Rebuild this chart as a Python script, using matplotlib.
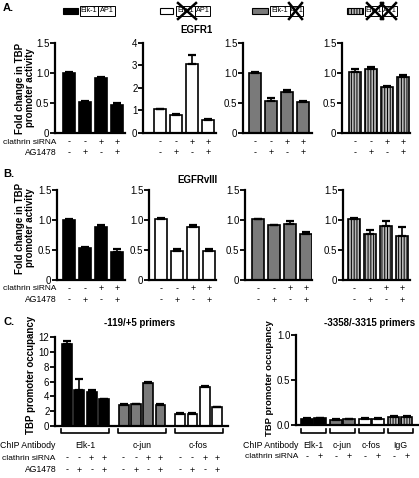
import numpy as np
import matplotlib
matplotlib.use("Agg")
import matplotlib.pyplot as plt
from matplotlib.patches import Rectangle
from matplotlib.lines import Line2D
from matplotlib.transforms import blended_transform_factory

plt.rcParams["font.family"] = ["Liberation Sans", "DejaVu Sans"]
plt.rcParams["hatch.linewidth"] = 0.7

# row labels
clathrin = ["-", "-", "+", "+"]
ag1478 = ["-", "+", "-", "+"]

# panel A (EGFR1)
a_black = [1.00, 0.52, 0.92, 0.47]
a_black_err = [0.02, 0.02, 0.02, 0.03]
a_white = [1.05, 0.82, 3.05, 0.58]
a_white_err = [0.03, 0.03, 0.40, 0.02]
a_gray = [1.00, 0.54, 0.69, 0.52]
a_gray_err = [0.02, 0.04, 0.02, 0.01]
a_striped = [1.02, 1.06, 0.76, 0.93]
a_striped_err = [0.04, 0.04, 0.03, 0.04]

# panel B (EGFRvIII)
b_black = [1.00, 0.53, 0.89, 0.47]
b_black_err = [0.02, 0.02, 0.03, 0.04]
b_white = [1.02, 0.49, 0.88, 0.49]
b_white_err = [0.02, 0.03, 0.03, 0.03]
b_gray = [1.01, 0.91, 0.93, 0.76]
b_gray_err = [0.01, 0.01, 0.05, 0.04]
b_striped = [1.01, 0.76, 0.90, 0.73]
b_striped_err = [0.03, 0.07, 0.09, 0.15]

# panel C, -119/+5 primers
c_groups = ["Elk-1", "c-jun", "c-fos"]
c_elk = [11.1, 4.8, 4.6, 3.6]
c_elk_err = [0.4, 1.5, 0.3, 0.1]
c_jun = [2.8, 2.9, 5.8, 2.8]
c_jun_err = [0.1, 0.1, 0.1, 0.1]
c_fos = [1.6, 1.6, 5.2, 2.5]
c_fos_err = [0.1, 0.1, 0.2, 0.1]

# panel C, -3358/-3315 primers
d_groups = ["Elk-1", "c-jun", "c-fos", "IgG"]
d_clathrin = ["-", "+"]
d_elk = [0.07, 0.075]
d_jun = [0.06, 0.065]
d_fos = [0.07, 0.07]
d_igg = [0.09, 0.09]
d_err = [0.005, 0.005]

W, H = 419, 478
fig = plt.figure(figsize=(W / 100, H / 100), dpi=100)


def fx(x):
    return x / W


def fy(y):
    return 1 - y / H


STYLES = {
    "black": dict(color="black", hatch=None),
    "white": dict(color="white", hatch=None),
    "gray": dict(color="#7a7a7a", hatch=None),
    "striped": dict(color="#b8b8b8", hatch="||||||"),
}


def add_ax(x0, x1, ytop, ybot):
    ax = fig.add_axes([fx(x0), fy(ybot), (x1 - x0) / W, (ybot - ytop) / H])
    for s in ["top", "right"]:
        ax.spines[s].set_visible(False)
    for s in ["left", "bottom"]:
        ax.spines[s].set_linewidth(1.6)
    ax.tick_params(axis="y", direction="out", length=3.5, width=1.3, labelsize=7, pad=0.5)
    ax.tick_params(axis="x", bottom=False, labelbottom=False)
    return ax


def draw_bars(ax, x, vals, errs, style, width):
    st = STYLES[style]
    ax.bar(x, vals, width, color=st["color"], edgecolor="black", linewidth=1.2,
           hatch=st["hatch"], zorder=2)
    ax.errorbar(x, vals, yerr=[np.zeros(len(vals)), errs], fmt="none", ecolor="black",
                elinewidth=1.2, capsize=3, capthick=1.6, zorder=3)


def sign_row(ax, x, signs, ypx, size=6.5):
    tr = blended_transform_factory(ax.transData, fig.transFigure)
    for xi, s in zip(x, signs):
        ax.text(xi, fy(ypx), s, transform=tr, ha="center", va="center", fontsize=size)


def small_panel(x0, x1, first_off, ytop, ybot, vals, errs, style, ymax, ticks, ticklabels,
                rows=None):
    ax = add_ax(x0, x1, ytop, ybot)
    pitch = 16.0
    x = np.arange(len(vals))
    draw_bars(ax, x, vals, errs, style, 0.78)
    left = -first_off / pitch
    ax.set_xlim(left, left + (x1 - x0) / pitch)
    ax.set_ylim(0, ymax)
    ax.set_yticks(ticks)
    ax.set_yticklabels(ticklabels)
    if rows:
        sign_row(ax, x, clathrin, rows[0])
        sign_row(ax, x, ag1478, rows[1])
    return ax


t15 = [0, 0.5, 1.0, 1.5]
l15 = ["0", "0.5", "1.0", "1.5"]

# ---- panel A ----
A_top, A_bot = 43, 133
small_panel(55, 125, 14, A_top, A_bot, a_black, a_black_err, "black", 1.5, t15, l15, (142, 153))
small_panel(143, 216, 17, A_top, A_bot, a_white, a_white_err, "white", 4, [0, 1, 2, 3, 4],
            ["0", "1", "2", "3", "4"], (142, 153))
small_panel(243, 312, 12, A_top, A_bot, a_gray, a_gray_err, "gray", 1.5, t15, l15, (142, 153))
small_panel(342, 410, 13, A_top, A_bot, a_striped, a_striped_err, "striped", 1.5, t15, l15,
            (142, 153))

# ---- panel B ----
B_top, B_bot = 190, 280
small_panel(57, 125, 12, B_top, B_bot, b_black, b_black_err, "black", 1.5, t15, l15, (289, 300))
small_panel(149, 216, 12, B_top, B_bot, b_white, b_white_err, "white", 1.5, t15, l15, (289, 300))
small_panel(245, 312, 13, B_top, B_bot, b_gray, b_gray_err, "gray", 1.5, t15, l15, (289, 300))
small_panel(343, 410, 11, B_top, B_bot, b_striped, b_striped_err, "striped", 1.5, t15, l15,
            (289, 300))

for yy in (142, 289):
    fig.text(fx(56), fy(yy), "clathrin siRNA", ha="right", va="center", fontsize=6.0)
for yy in (153, 300):
    fig.text(fx(57), fy(yy), "AG1478", ha="right", va="center", fontsize=6.2)

for yc in (88, 228):
    fig.text(fx(25), fy(yc), "Fold change in TBP\npromoter activity", rotation=90,
             ha="center", va="center", fontsize=7, fontweight="bold", linespacing=1.05)

fig.text(fx(196), fy(30), "EGFR1", ha="center", va="center", fontsize=7, fontweight="bold")
fig.text(fx(197), fy(180), "EGFRvIII", ha="center", va="center", fontsize=7, fontweight="bold")

for lbl, yy in (("A.", 8), ("B.", 174), ("C.", 322)):
    fig.text(fx(3), fy(yy), lbl, ha="left", va="center", fontsize=8, fontweight="bold")

# ---- legend boxes at top ----
legend_items = [
    # patch x0, x1, box x0, split, x1, style, cross ap1, cross elk
    (63, 78, 80, 98, 115, "black", False, False),
    (160, 173, 176, 195, 210, "white", False, True),
    (252, 268, 270, 290, 303, "gray", True, False),
    (347, 363, 365, 382, 397, "striped", True, True),
]
for p0, p1, b0, bs, b1, style, x_ap1, x_elk in legend_items:
    st = STYLES[style]
    fig.add_artist(Rectangle((fx(p0), fy(14)), (p1 - p0) / W, 6 / H, transform=fig.transFigure,
                             facecolor=st["color"], edgecolor="black", linewidth=0.8,
                             hatch=st["hatch"]))
    for a0, a1, txt in ((b0, bs, "Elk-1"), (bs, b1, "AP1")):
        fig.add_artist(Rectangle((fx(a0), fy(16)), (a1 - a0) / W, 10 / H,
                                 transform=fig.transFigure, facecolor="white",
                                 edgecolor="black", linewidth=0.7))
        fig.text(fx((a0 + a1) / 2), fy(11), txt, ha="center", va="center", fontsize=5.2)
    crosses = []
    if x_elk:
        crosses.append((b0 + 2, bs + 1))
    if x_ap1:
        crosses.append((bs - 1, b1 - 1))
    for c0, c1 in crosses:
        fig.add_artist(Line2D([fx(c0), fx(c1)], [fy(3), fy(19)], transform=fig.transFigure,
                              color="black", linewidth=1.8))
        fig.add_artist(Line2D([fx(c0), fx(c1)], [fy(19), fy(3)], transform=fig.transFigure,
                              color="black", linewidth=1.8))


def bracket(ax, xa, xb, yb, ytick):
    tr = ax.get_xaxis_transform()
    ax.plot([xa, xa, xb, xb], [ytick, yb, yb, ytick], color="black", lw=1.2,
            transform=tr, clip_on=False)


# ---- panel C left ----
C_top, C_bot = 337, 426
axc = add_ax(55, 228, C_top, C_bot)
pitch_c = 12.3
gstep = 4.6
all_x = []
for g, (vals, errs, style) in enumerate(((c_elk, c_elk_err, "black"),
                                         (c_jun, c_jun_err, "gray"),
                                         (c_fos, c_fos_err, "white"))):
    x = g * gstep + np.arange(4)
    draw_bars(axc, x, vals, errs, style, 0.8)
    all_x.append(x)
left = -12 / pitch_c
axc.set_xlim(left, left + (228 - 55) / pitch_c)
axc.set_ylim(0, 12)
axc.set_yticks(range(0, 13, 2))
span = C_bot - C_top
tr = blended_transform_factory(axc.transData, fig.transFigure)
for x, name in zip(all_x, c_groups):
    bracket(axc, x[0] - 0.45, x[-1] + 0.45, -7 / span, -3 / span)
    axc.text(x.mean(), fy(445), name, transform=tr, ha="center", va="center", fontsize=6.3)
    sign_row(axc, x, clathrin, 458)
    sign_row(axc, x, ag1478, 470)
fig.text(fx(55), fy(445), "ChIP Antibody", ha="right", va="center", fontsize=6.3)
fig.text(fx(55), fy(458), "clathrin siRNA", ha="right", va="center", fontsize=6.0)
fig.text(fx(57), fy(470), "AG1478", ha="right", va="center", fontsize=6.2)
fig.text(fx(31), fy(375), "TBP promoter occupancy", rotation=90, ha="center", va="center",
         fontsize=7, fontweight="bold")
fig.text(fx(140), fy(323), "-119/+5 primers", ha="center", va="center", fontsize=7,
         fontweight="bold")

# ---- panel C right ----
D_top, D_bot = 335, 425
axd = add_ax(296, 418, D_top, D_bot)
pitch_d = 13.0
dstep = 2.23
d_x = []
for g, (vals, style) in enumerate(((d_elk, "black"), (d_jun, "gray"),
                                   (d_fos, "white"), (d_igg, "striped"))):
    x = g * dstep + np.arange(2)
    draw_bars(axd, x, vals, d_err, style, 0.85)
    d_x.append(x)
left = -11 / pitch_d
axd.set_xlim(left, left + (418 - 296) / pitch_d)
axd.set_ylim(0, 1.0)
axd.set_yticks([0, 0.5, 1.0])
axd.set_yticklabels(["0.0", "0.5", "1.0"])
span = D_bot - D_top
tr = blended_transform_factory(axd.transData, fig.transFigure)
for x, name in zip(d_x, d_groups):
    bracket(axd, x[0] - 0.45, x[-1] + 0.45, -8 / span, -4 / span)
    axd.text(x.mean(), fy(445), name, transform=tr, ha="center", va="center", fontsize=6.3)
    sign_row(axd, x, d_clathrin, 457)
fig.text(fx(298), fy(445), "ChIP Antibody", ha="right", va="center", fontsize=6.3)
fig.text(fx(298), fy(457), "clathrin siRNA", ha="right", va="center", fontsize=6.0)
fig.text(fx(270), fy(378), "TBP promoter occupancy", rotation=90, ha="center", va="center",
         fontsize=6.8, fontweight="bold")
fig.text(fx(370), fy(323), "-3358/-3315 primers", ha="center", va="center", fontsize=7,
         fontweight="bold")

fig.savefig("out.png", dpi=100)
